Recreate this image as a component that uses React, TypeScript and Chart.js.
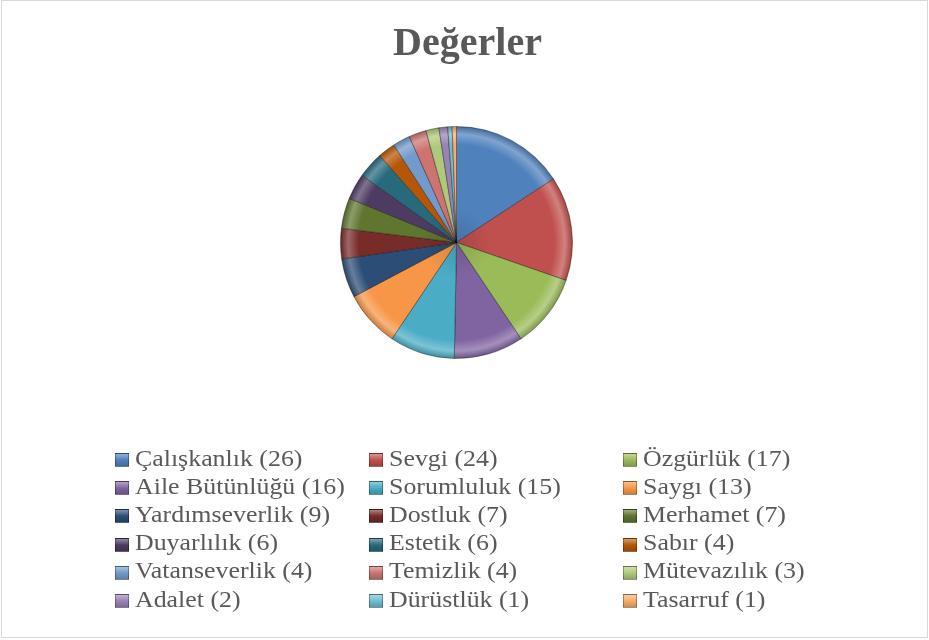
import React, { useEffect, useRef } from "react";
import { Chart, registerables } from "chart.js";

Chart.register(...registerables);

const TITLE = "Değerler";
const categories = [
  "Çalışkanlık", "Sevgi", "Özgürlük", "Aile Bütünlüğü", "Sorumluluk", "Saygı",
  "Yardımseverlik", "Dostluk", "Merhamet", "Duyarlılık", "Estetik", "Sabır",
  "Vatanseverlik", "Temizlik", "Mütevazılık", "Adalet", "Dürüstlük", "Tasarruf",
];
const values = [26, 24, 17, 16, 15, 13, 9, 7, 7, 6, 6, 4, 4, 4, 3, 2, 1, 1];
const colors = [
  "#4F81BD", "#C0504D", "#9BBB59", "#8064A2", "#4BACC6", "#F79646",
  "#2C4D75", "#772C2A", "#5F7530", "#4D3B62", "#276A7C", "#B65708",
  "#729ACA", "#CD7371", "#AFC97A", "#9983B5", "#6FBDD1", "#F9AB6B",
];

const FONT = '"Liberation Serif", "Times New Roman", serif';

function mix(hex: string, target: number, t: number): string {
  const n = parseInt(hex.slice(1), 16);
  const r = (n >> 16) & 255, g = (n >> 8) & 255, b = n & 255;
  const f = (c: number) => Math.round(c + (target - c) * t);
  return `rgb(${f(r)},${f(g)},${f(b)})`;
}

// keep the pie centred where the reference has it while the title is centred on the whole chart
const pieAreaPlugin = {
  id: "pieArea",
  afterLayout(chart: any) {
    const a = chart.chartArea;
    a.left = 0;
    a.right = 913;
    a.width = 913;
  },
};

export default function App() {
  const ref = useRef<HTMLCanvasElement | null>(null);

  useEffect(() => {
    if (!ref.current) return;
    const chart = new Chart(ref.current, {
      type: "pie",
      data: {
        labels: categories.map((c, i) => `${c} (${values[i]})`),
        datasets: [
          {
            data: values,
            backgroundColor: (ctx: any) => {
              const base = colors[ctx.dataIndex % colors.length];
              const area = ctx.chart.chartArea;
              if (!area) return base;
              const cx = (area.left + area.right) / 2;
              const cy = (area.top + area.bottom) / 2;
              const r = Math.min(area.width, area.height) / 2;
              const g = ctx.chart.ctx.createRadialGradient(cx, cy, 0, cx, cy, r);
              g.addColorStop(0, mix(base, 0, 0.12));
              g.addColorStop(0.3, base);
              g.addColorStop(0.84, base);
              g.addColorStop(0.93, mix(base, 255, 0.28));
              g.addColorStop(1, mix(base, 0, 0.2));
              return g;
            },
            borderColor: "rgba(0,0,0,0.35)",
            borderWidth: 1,
            hoverOffset: 0,
          },
        ],
      },
      options: {
        responsive: false,
        animation: false,
        layout: { padding: { top: 0, left: 6, right: 0, bottom: 281 } },
        plugins: {
          legend: { display: false },
          tooltip: { enabled: false },
          title: {
            display: true,
            text: TITLE,
            color: "#595959",
            font: { family: FONT, size: 40, weight: "bold", lineHeight: 1.2 },
            padding: { top: 20.2, bottom: 57.8 },
          },
        },
      },
      plugins: [pieAreaPlugin],
    });
    return () => chart.destroy();
  }, []);

  return (
    <div style={{ position: "absolute", left: 0, top: 0, width: 929, height: 640, background: "#fff" }}>
      <canvas ref={ref} width={929} height={640} style={{ position: "absolute", left: 0, top: 0 }} />
      <div
        style={{
          position: "absolute",
          left: 1,
          top: 0,
          width: 927,
          height: 638,
          boxSizing: "border-box",
          border: "1px solid #d9d9d9",
          pointerEvents: "none",
        }}
      />
      <div
        style={{
          position: "absolute",
          left: 115,
          top: 444.6,
          display: "grid",
          gridTemplateColumns: "254px 254px 254px",
          gridAutoRows: "28.2px",
          fontFamily: FONT,
          fontSize: 22.5,
          color: "#595959",
        }}
      >
        {categories.map((c, i) => (
          <div key={c} style={{ display: "flex", alignItems: "flex-start", whiteSpace: "nowrap" }}>
            <span
              style={{
                display: "inline-block",
                flex: "none",
                width: 14,
                height: 14,
                marginTop: 8.4,
                marginRight: 6,
                boxSizing: "border-box",
                backgroundColor: colors[i],
                backgroundImage:
                  "linear-gradient(180deg, rgba(255,255,255,0.4), rgba(255,255,255,0) 50%, rgba(0,0,0,0.18))",
                border: "1px solid rgba(0,0,0,0.3)",
              }}
            />
            <span
              style={{
                display: "inline-block",
                lineHeight: "28.2px",
                transform: "scaleX(1.15)",
                transformOrigin: "0 0",
              }}
            >{`${c} (${values[i]})`}</span>
          </div>
        ))}
      </div>
    </div>
  );
}
